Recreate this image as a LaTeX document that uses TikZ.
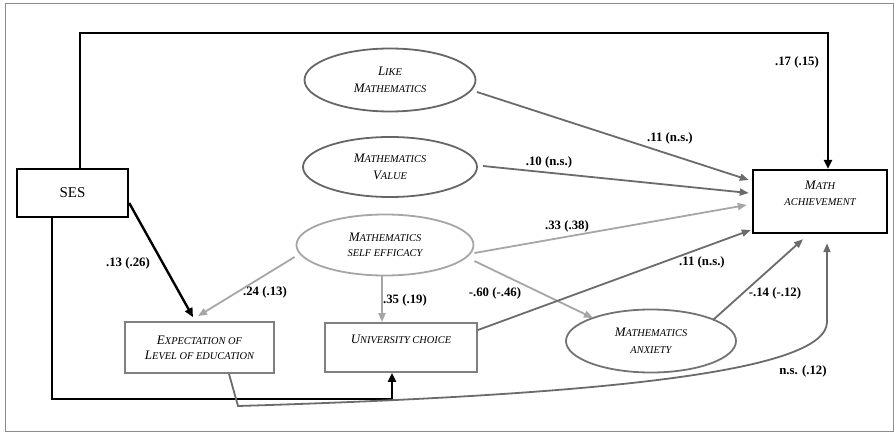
\documentclass[tikz,border=0pt]{standalone}
\usepackage{fontspec}
\setmainfont{Liberation Serif}
\usetikzlibrary{shapes.geometric,arrows.meta}
\newcommand\lc[1]{{\fontsize{10.4}{12}\selectfont #1}}

\begin{document}
\begin{tikzpicture}[x=1pt, y=-1pt,
    factor/.style={ellipse, draw=black!60, line width=1.8pt, inner sep=0pt, align=center, font=\fontsize{13}{17}\selectfont\itshape},
    measured/.style={rectangle, draw=black!50, line width=1.8pt, inner sep=0pt, align=center, font=\fontsize{13}{15}\selectfont\itshape},
    outcome/.style={rectangle, draw=black, line width=2.4pt, inner sep=0pt, align=center},
    strong/.style={draw=black, line width=2.4pt, -{Triangle[length=9pt,width=8pt]}},
    effect/.style={draw=black!58, line width=1.8pt, -{Triangle[length=9pt,width=7pt]}},
    weak/.style={effect, draw=black!35},
    coef/.style={font=\fontsize{12.8}{14}\selectfont\bfseries}
]
\useasboundingbox (0,0) rectangle (894,433);
\draw[black!45, line width=1pt] (5,4) rectangle (893,431);

% observed and latent variables
\node[outcome, minimum width=111pt, minimum height=48pt, font=\fontsize{15}{18}\selectfont] (ses) at (72.5,193) {SES};
\node[outcome, minimum width=134pt, minimum height=63pt, font=\fontsize{13}{16}\selectfont\itshape] (math) at (820,201.5) {M\lc{ATH}\\\lc{ACHIEVEMENT}\\\mbox{}};
\node[factor, minimum width=171pt, minimum height=63pt] (like) at (390,80) {L\lc{IKE}\\M\lc{ATHEMATICS}};
\node[factor, minimum width=174pt, minimum height=60pt] (value) at (390,167) {M\lc{ATHEMATICS}\\V\lc{ALUE}};
\node[factor, draw=black!35, minimum width=177pt, minimum height=61pt, font=\fontsize{13}{15}\selectfont\itshape] (eff) at (385,245) {M\lc{ATHEMATICS}\\\lc{SELF EFFICACY}};
\node[factor, draw=black!55, minimum width=170pt, minimum height=63pt] (anx) at (651,341) {M\lc{ATHEMATICS}\\\lc{ANXIETY}};
\node[measured, minimum width=149pt, minimum height=51pt] (expect) at (199.5,347.5) {E\lc{XPECTATION OF}\\L\lc{EVEL OF EDUCATION}};
\node[measured, minimum width=152pt, minimum height=49pt, font=\fontsize{13}{16}\selectfont\itshape] (uni) at (401,347.5) {U\lc{NIVERSITY CHOICE}\\\mbox{}};

\coordinate (topR) at (828,33);
\coordinate (sesLow) at (392,399);

% paths
\draw[strong] ([xshift=7.5pt]ses.north) |- (topR) -- ([xshift=8pt]math.north);
\draw[strong] ([yshift=-10pt]ses.east) -- ([shift={(-6.5,-4)}]expect.north);
\draw[strong] ([xshift=-20.5pt]ses.south) |- (sesLow) -- ([xshift=-9pt]uni.south);
\draw[effect] ([shift={(87,12)}]like.center) -- ([shift={(-3,-21.5)}]math.west);
\draw[effect] ([shift={(5,-1)}]value.east) -- ([shift={(-3,-8.5)}]math.west);
\draw[weak] ([shift={(0,8)}]eff.east) -- ([shift={(-5,3.5)}]math.west);
\draw[weak] ([shift={(-1,12)}]eff.west) -- ([shift={(-1.5,-5)}]expect.north);
\draw[weak] ([xshift=-3pt]eff.south) -- ([xshift=-19pt]uni.north);
\draw[weak] ([shift={(0,16)}]eff.east) -- ([shift={(-58,-23)}]anx.center);
\draw[effect] ([shift={(0,-17.5)}]uni.east) -- ([shift={(-1,28.5)}]math.west);
\draw[effect] ([shift={(62,-21)}]anx.center) -- ([shift={(-17,5)}]math.south);
\draw[effect] ([xshift=29.5pt]expect.south) -- (238,406) .. controls (600,395) and (827,372) .. (827,322) -- ([xshift=7pt,yshift=-9pt]math.south);

% coefficients
\node[coef] (c1) at (797,62) {.17 (.15)};
\node[coef] (c2) at (670,138) {.11 (n.s.)};
\node[coef] (c3) at (549,162) {.10 (n.s.)};
\node[coef] (c4) at (567,226) {.33 (.38)};
\node[coef] (c5) at (128,263) {.13 (.26)};
\node[coef] (c6) at (265,292) {.24 (.13)};
\node[coef] (c7) at (405,300) {.35 (.19)};
\node[coef] (c8) at (495,293) {-.60 (-.46)};
\node[coef] (c9) at (702,262) {.11 (n.s.)};
\node[coef] (c10) at (775,293) {-.14 (-.12)};
\node[coef] (c11) at (803,371) {n.s. (.12)};

\end{tikzpicture}
\end{document}
